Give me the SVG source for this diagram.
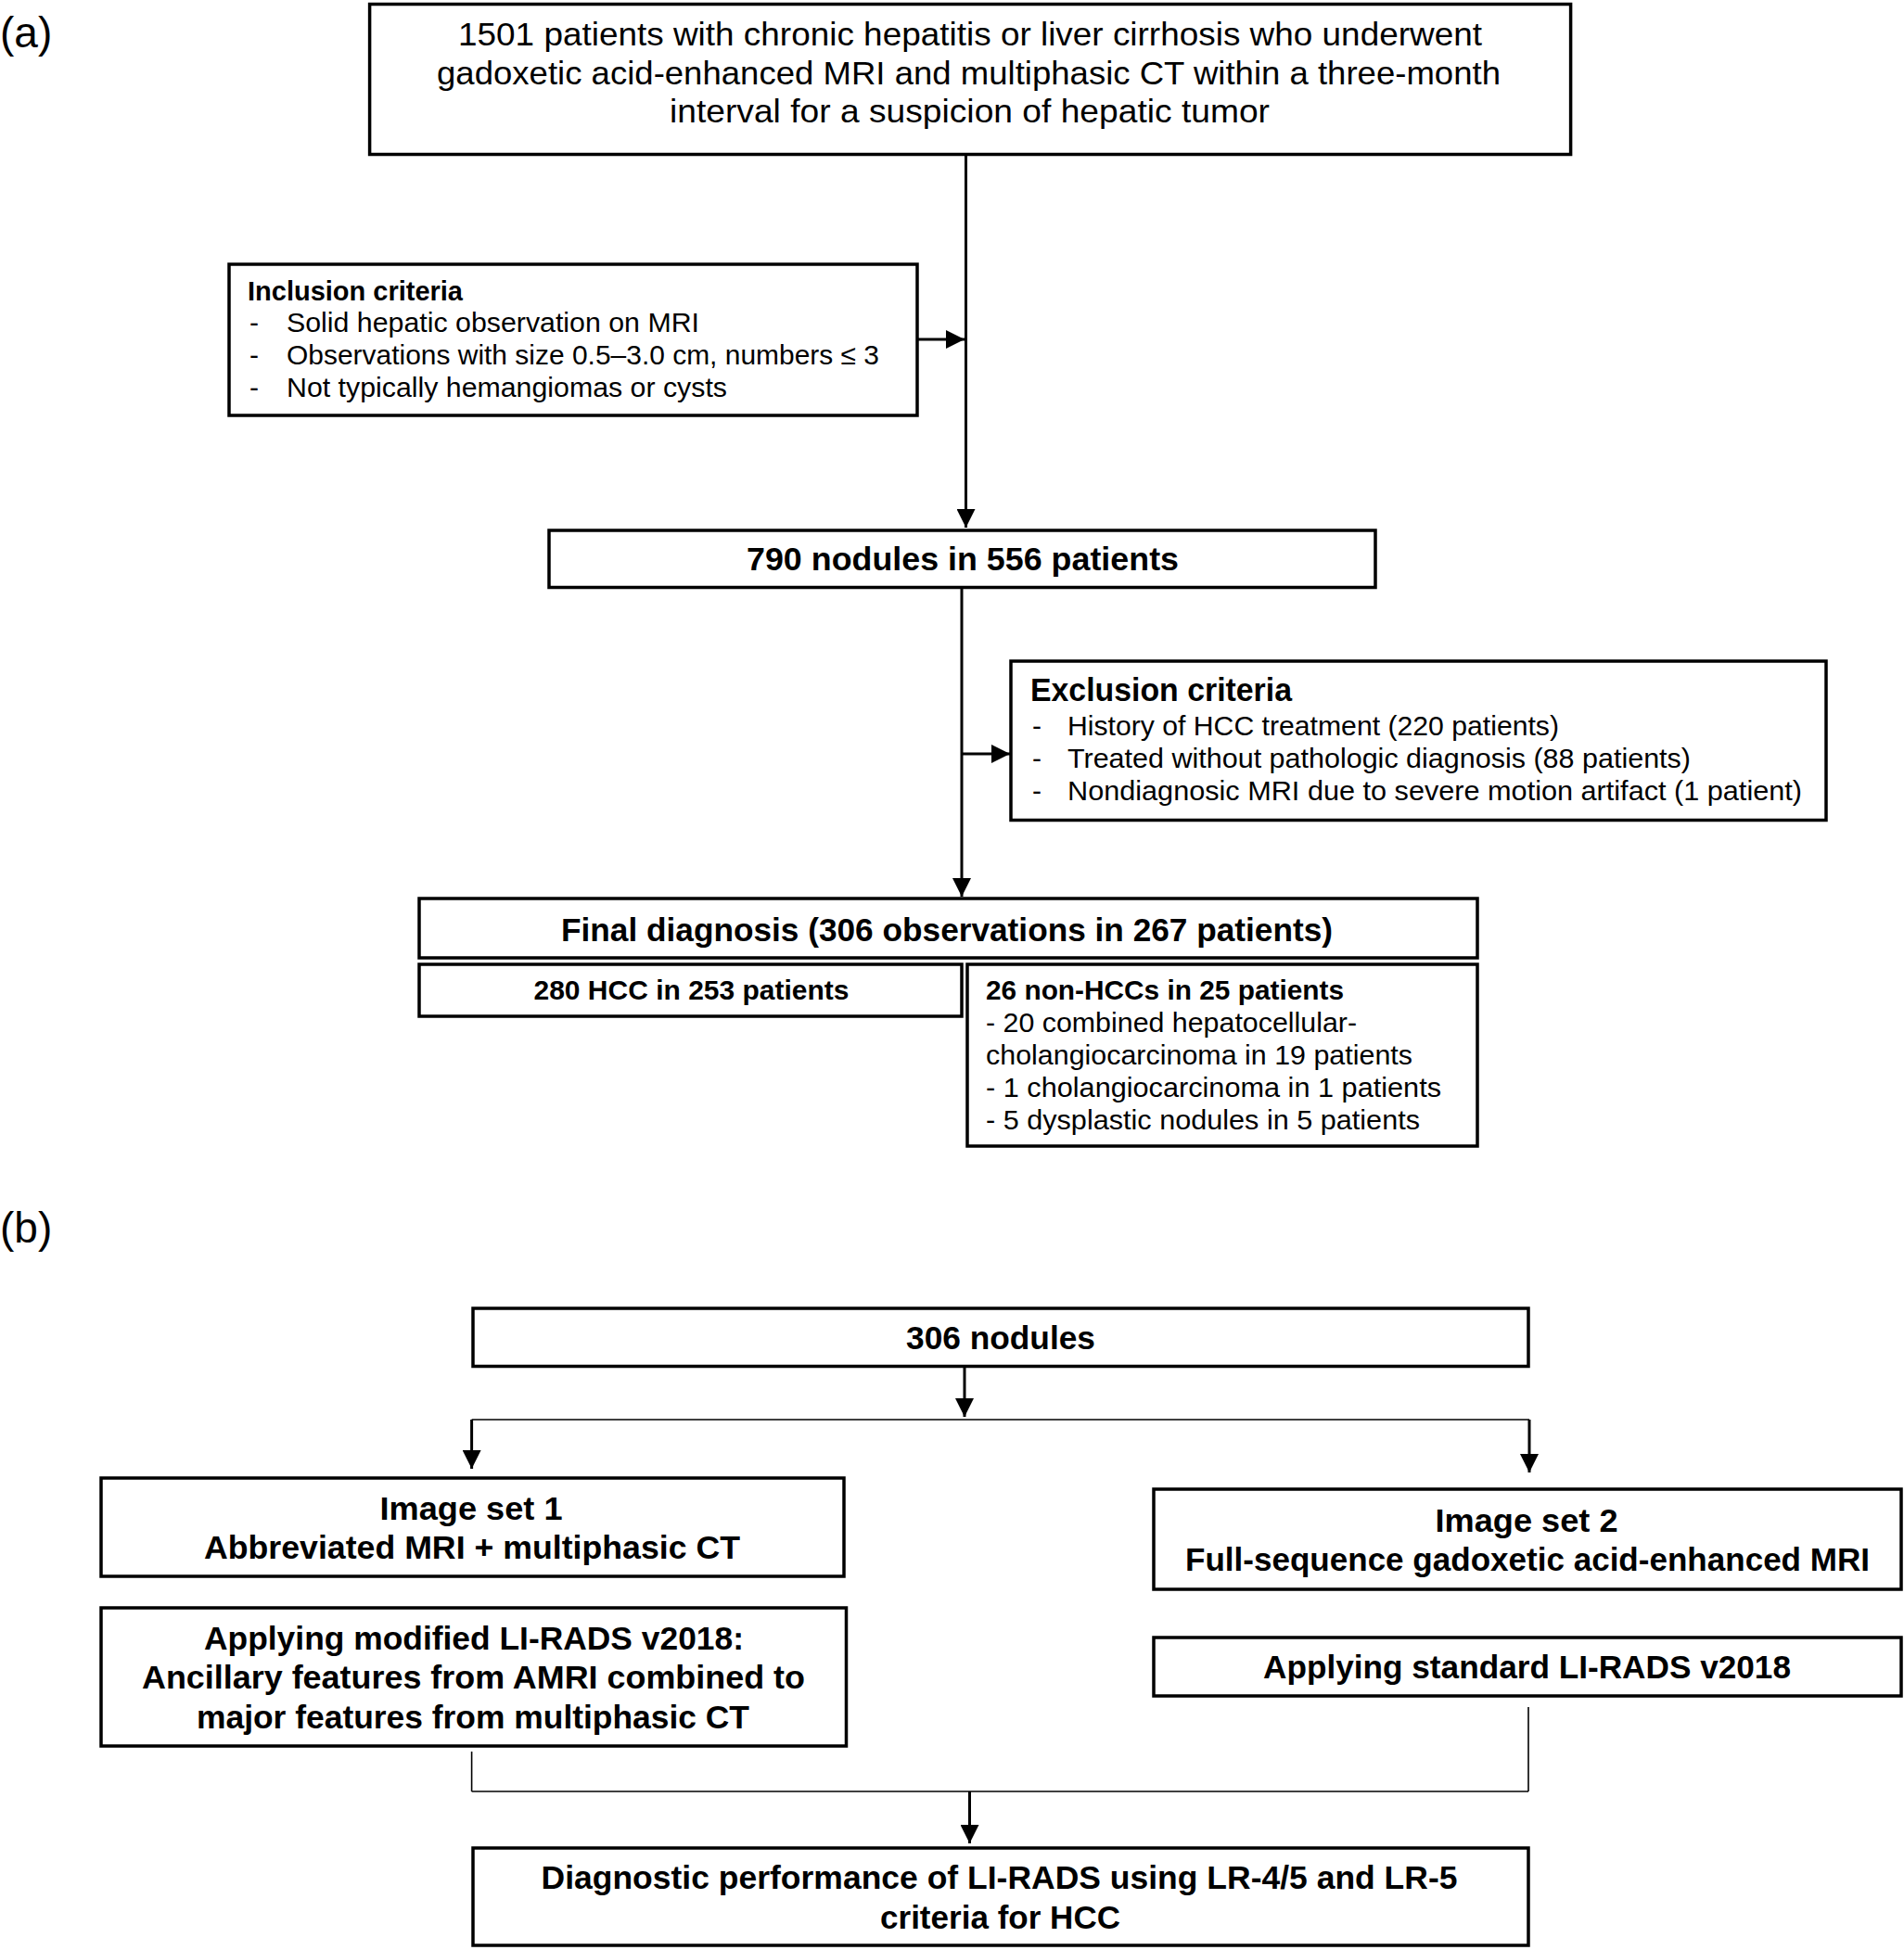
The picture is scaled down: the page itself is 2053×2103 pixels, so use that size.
<svg xmlns="http://www.w3.org/2000/svg" width="2053" height="2103" viewBox="0 0 2053 2103">
<style>
  text { font-family: "Liberation Sans", "Noto Sans", sans-serif; fill: #000; }
  .box { fill: #fff; stroke: #000; stroke-width: 3.5; }
  .t35 { font-size: 35px; }
  .t30 { font-size: 30px; }
  .b { font-weight: bold; }
  .c { text-anchor: middle; }
  .lbl { font-size: 46px; }
  .conn { fill: none; stroke: #000; stroke-width: 3; }
  .thin { fill: none; stroke: #000; stroke-width: 1.6; }
</style>
<defs>
  <marker id="ah" viewBox="0 0 20 20" refX="20" refY="10" markerWidth="20" markerHeight="20" markerUnits="userSpaceOnUse" orient="auto">
    <path d="M0,0 L20,10 L0,20 Z" fill="#000"/>
  </marker>
</defs>
<rect width="2053" height="2103" fill="#fff"/>

<text class="lbl" x="0" y="51">(a)</text>
<text class="lbl" x="0" y="1340">(b)</text>

<g id="connectors">
  <line class="conn" x1="1041.5" y1="166" x2="1041.5" y2="569" marker-end="url(#ah)"/>
  <line class="conn" x1="989" y1="366" x2="1040" y2="366" marker-end="url(#ah)"/>
  <line class="conn" x1="1037" y1="633" x2="1037" y2="967" marker-end="url(#ah)"/>
  <line class="conn" x1="1037" y1="813" x2="1089" y2="813" marker-end="url(#ah)"/>
  <line class="conn" x1="1040" y1="1474" x2="1040" y2="1528" marker-end="url(#ah)"/>
  <line class="thin" x1="508.6" y1="1531" x2="1649" y2="1531"/>
  <line class="conn" x1="508.6" y1="1531" x2="508.6" y2="1584" marker-end="url(#ah)"/>
  <line class="conn" x1="1649" y1="1531" x2="1649" y2="1588" marker-end="url(#ah)"/>
  <line class="thin" x1="508.6" y1="1889" x2="508.6" y2="1932"/>
  <line class="thin" x1="1648" y1="1841" x2="1648" y2="1932"/>
  <line class="thin" x1="508.6" y1="1932" x2="1648" y2="1932"/>
  <line class="conn" x1="1045.5" y1="1932" x2="1045.5" y2="1988" marker-end="url(#ah)"/>
</g>

<g id="n-top">
  <rect class="box" x="398.6" y="4.5" width="1295" height="162"/>
  <text class="t35 c" x="1046" y="49" textLength="1104" lengthAdjust="spacingAndGlyphs">1501 patients with chronic hepatitis or liver cirrhosis who underwent</text>
  <text class="t35 c" x="1044.5" y="91" textLength="1147" lengthAdjust="spacingAndGlyphs">gadoxetic acid-enhanced MRI and multiphasic CT within a three-month</text>
  <text class="t35 c" x="1045.5" y="132" textLength="647" lengthAdjust="spacingAndGlyphs">interval for a suspicion of hepatic tumor</text>
</g>

<g id="n-inclusion">
  <rect class="box" x="247" y="285" width="742" height="163"/>
  <text class="t30 b" x="267" y="324" textLength="232" lengthAdjust="spacingAndGlyphs">Inclusion criteria</text>
  <text class="t30" x="269" y="358">-</text>
  <text class="t30" x="309" y="358" textLength="445" lengthAdjust="spacingAndGlyphs">Solid hepatic observation on MRI</text>
  <text class="t30" x="269" y="393">-</text>
  <text class="t30" x="309" y="393" textLength="639" lengthAdjust="spacingAndGlyphs">Observations with size 0.5–3.0 cm, numbers ≤ 3</text>
  <text class="t30" x="269" y="428">-</text>
  <text class="t30" x="309" y="428" textLength="475" lengthAdjust="spacingAndGlyphs">Not typically hemangiomas or cysts</text>
</g>

<g id="n-790">
  <rect class="box" x="592" y="572" width="891" height="61.5"/>
  <text class="t35 b c" x="1038" y="615" textLength="466" lengthAdjust="spacingAndGlyphs">790 nodules in 556 patients</text>
</g>

<g id="n-exclusion">
  <rect class="box" x="1090" y="713" width="879" height="171.5"/>
  <text class="t35 b" x="1111" y="756" textLength="282" lengthAdjust="spacingAndGlyphs">Exclusion criteria</text>
  <text class="t30" x="1113" y="793">-</text>
  <text class="t30" x="1151" y="793" textLength="530" lengthAdjust="spacingAndGlyphs">History of HCC treatment (220 patients)</text>
  <text class="t30" x="1113" y="828">-</text>
  <text class="t30" x="1151" y="828" textLength="672" lengthAdjust="spacingAndGlyphs">Treated without pathologic diagnosis (88 patients)</text>
  <text class="t30" x="1113" y="863">-</text>
  <text class="t30" x="1151" y="863" textLength="792" lengthAdjust="spacingAndGlyphs">Nondiagnosic MRI due to severe motion artifact (1 patient)</text>
</g>

<g id="n-final">
  <rect class="box" x="452" y="969" width="1141" height="64"/>
  <text class="t35 b c" x="1021" y="1015" textLength="832" lengthAdjust="spacingAndGlyphs">Final diagnosis (306 observations in 267 patients)</text>
</g>

<g id="n-hcc">
  <rect class="box" x="452" y="1040" width="585" height="56"/>
  <text class="t30 b c" x="745.5" y="1078" textLength="340" lengthAdjust="spacingAndGlyphs">280 HCC in 253 patients</text>
</g>

<g id="n-nonhcc">
  <rect class="box" x="1043" y="1040" width="550" height="196"/>
  <text class="t30 b" x="1063" y="1078" textLength="386" lengthAdjust="spacingAndGlyphs">26 non-HCCs in 25 patients</text>
  <text class="t30" x="1063" y="1113" textLength="400" lengthAdjust="spacingAndGlyphs">- 20 combined hepatocellular-</text>
  <text class="t30" x="1063" y="1148" textLength="460" lengthAdjust="spacingAndGlyphs">cholangiocarcinoma in 19 patients</text>
  <text class="t30" x="1063" y="1183" textLength="491" lengthAdjust="spacingAndGlyphs">- 1 cholangiocarcinoma in 1 patients</text>
  <text class="t30" x="1063" y="1218" textLength="468" lengthAdjust="spacingAndGlyphs">- 5 dysplastic nodules in 5 patients</text>
</g>

<g id="n-306">
  <rect class="box" x="510" y="1411" width="1138" height="62.5"/>
  <text class="t35 b c" x="1079" y="1455" textLength="204" lengthAdjust="spacingAndGlyphs">306 nodules</text>
</g>

<g id="n-set1">
  <rect class="box" x="109" y="1594" width="801" height="106"/>
  <text class="t35 b c" x="508" y="1639" textLength="197" lengthAdjust="spacingAndGlyphs">Image set 1</text>
  <text class="t35 b c" x="509" y="1681" textLength="578" lengthAdjust="spacingAndGlyphs">Abbreviated MRI + multiphasic CT</text>
</g>

<g id="n-modified">
  <rect class="box" x="109" y="1734" width="803.5" height="149"/>
  <text class="t35 b c" x="511" y="1779" textLength="582" lengthAdjust="spacingAndGlyphs">Applying modified LI-RADS v2018:</text>
  <text class="t35 b c" x="510.5" y="1821" textLength="715" lengthAdjust="spacingAndGlyphs">Ancillary features from AMRI combined to</text>
  <text class="t35 b c" x="510" y="1864" textLength="596" lengthAdjust="spacingAndGlyphs">major features from multiphasic CT</text>
</g>

<g id="n-set2">
  <rect class="box" x="1244" y="1606" width="806" height="108"/>
  <text class="t35 b c" x="1646" y="1652" textLength="197" lengthAdjust="spacingAndGlyphs">Image set 2</text>
  <text class="t35 b c" x="1647" y="1694" textLength="738" lengthAdjust="spacingAndGlyphs">Full-sequence gadoxetic acid-enhanced MRI</text>
</g>

<g id="n-standard">
  <rect class="box" x="1244" y="1766" width="806" height="63"/>
  <text class="t35 b c" x="1646.5" y="1810" textLength="569" lengthAdjust="spacingAndGlyphs">Applying standard LI-RADS v2018</text>
</g>

<g id="n-diag">
  <rect class="box" x="510" y="1993" width="1138" height="105"/>
  <text class="t35 b c" x="1077.5" y="2037" textLength="988" lengthAdjust="spacingAndGlyphs">Diagnostic performance of LI-RADS using LR-4/5 and LR-5</text>
  <text class="t35 b c" x="1078.5" y="2080" textLength="259" lengthAdjust="spacingAndGlyphs">criteria for HCC</text>
</g>
</svg>
